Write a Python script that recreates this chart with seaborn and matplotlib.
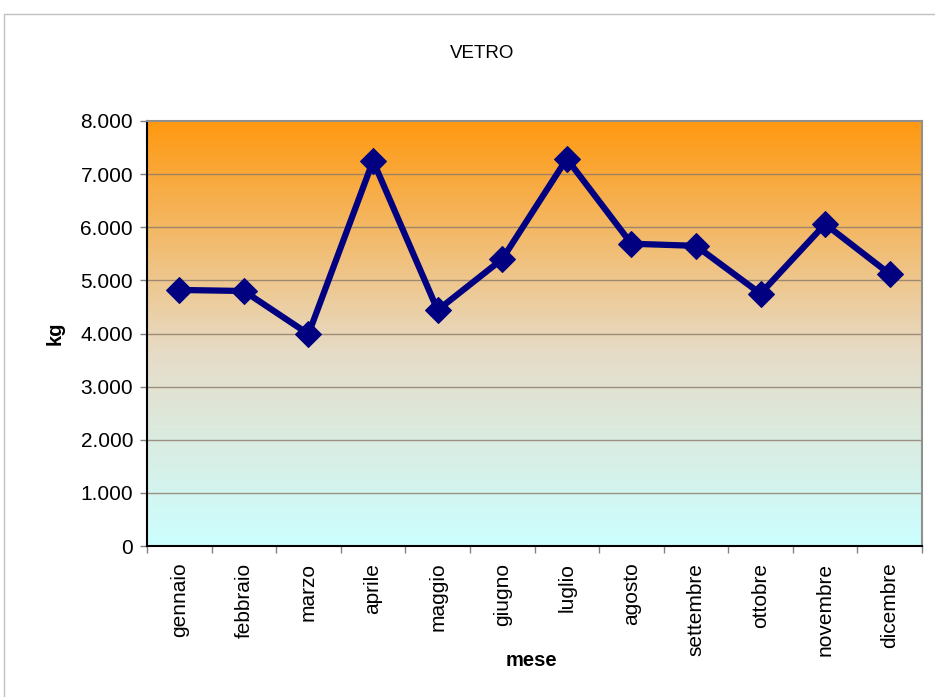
import numpy as np
import pandas as pd
import matplotlib
matplotlib.use("Agg")
import matplotlib.pyplot as plt
from matplotlib.colors import LinearSegmentedColormap
from matplotlib.ticker import FuncFormatter, FixedLocator
from matplotlib.patches import Rectangle
import seaborn as sns

mesi = ["gennaio", "febbraio", "marzo", "aprile", "maggio", "giugno",
        "luglio", "agosto", "settembre", "ottobre", "novembre", "dicembre"]
kg = [4820, 4800, 3990, 7250, 4440, 5400, 7290, 5690, 5650, 4750, 6060, 5120]

sns.set_theme(style="white")
plt.rcParams["font.family"] = ["Liberation Sans", "DejaVu Sans"]
plt.rcParams["text.color"] = "black"
plt.rcParams["axes.labelcolor"] = "black"
plt.rcParams["xtick.labelcolor"] = "black"
plt.rcParams["ytick.labelcolor"] = "black"

fig = plt.figure(figsize=(9.35, 6.97), dpi=100)
ax = fig.add_axes([147 / 935, 1 - 546 / 697, (922 - 147) / 935, (546 - 121) / 697])

# cornice esterna
fig.patches.append(Rectangle((4 / 935, -0.01), 1.0, 1 - 14 / 697 + 0.01,
                             transform=fig.transFigure, fill=False,
                             edgecolor="#c0c0c0", linewidth=1.0))

# sfondo sfumato
grad = LinearSegmentedColormap.from_list(
    "bg", [(0.0, "#ccffff"), (0.45, "#e6dcc8"), (1.0, "#ff9910")])
ax.imshow(np.linspace(0, 1, 256).reshape(-1, 1), cmap=grad, origin="lower",
          extent=[0, 1, 0, 1], transform=ax.transAxes, aspect="auto", zorder=0)

df = pd.DataFrame({"mese": mesi, "kg": kg})
sns.lineplot(data=df, x="mese", y="kg", ax=ax, color="#000080", linewidth=4.5,
             marker="D", markersize=13, markeredgecolor="#000080", zorder=3)

ax.set_xlim(-0.5, len(mesi) - 0.5)
ax.set_ylim(0, 8000)
ax.set_yticks(range(0, 8001, 1000))
ax.yaxis.set_major_formatter(FuncFormatter(lambda v, p: f"{int(v):,}".replace(",", ".")))
for y in range(1000, 8000, 1000):
    ax.axhline(y, color="#8c7a6a", linewidth=1.0, alpha=0.8, zorder=1)

ax.set_xticks(range(len(mesi)))
ax.set_xticklabels(mesi, rotation=90, fontsize=15)
ax.xaxis.set_minor_locator(FixedLocator(np.arange(-0.5, len(mesi), 1)))
ax.tick_params(axis="x", which="major", length=0, pad=12)
ax.tick_params(axis="x", which="minor", length=5, width=1, color="#808080", direction="out", bottom=True)
ax.tick_params(axis="y", length=5, width=1, color="#808080", direction="out", left=True, labelsize=15, pad=5)

for s in ["left", "bottom"]:
    ax.spines[s].set_color("black")
    ax.spines[s].set_linewidth(1.5)
for s in ["top", "right"]:
    ax.spines[s].set_color("#909090")
    ax.spines[s].set_linewidth(1.5)

ax.set_xlabel("mese", fontsize=14.5, fontweight="bold")
ax.xaxis.set_label_coords((531 - 147) / 775, (546 - 661) / 425)
ax.xaxis.label.set_va("center")
ax.set_ylabel("kg", fontsize=14.5, fontweight="bold")
ax.yaxis.set_label_coords((55 - 147) / 775, 0.5)
ax.yaxis.label.set_va("center")
fig.text(482 / 935, 1 - 53 / 697, "VETRO", ha="center", va="center", fontsize=13.5, color="black")

fig.savefig("out.png", dpi=100)
